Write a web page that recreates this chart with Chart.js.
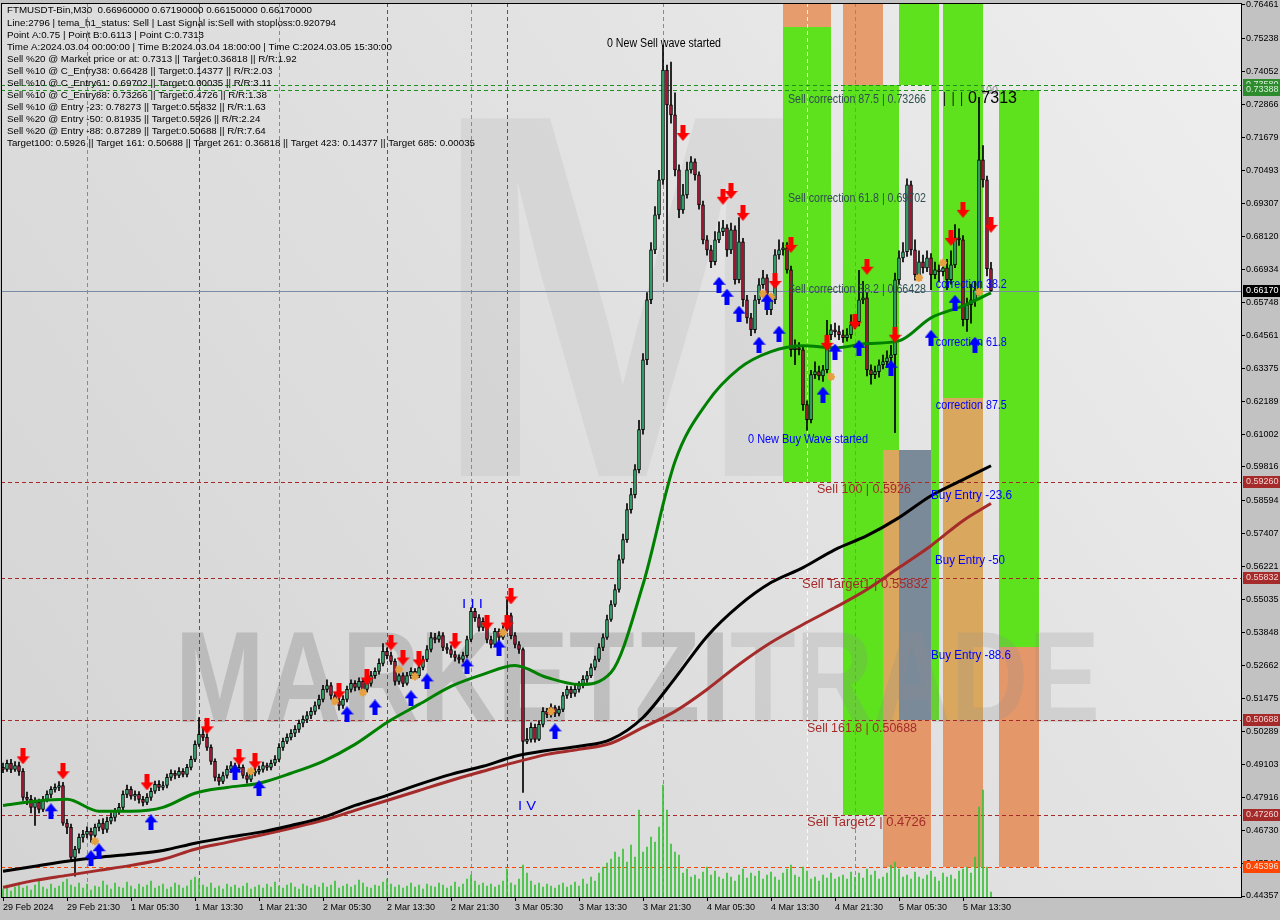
<!DOCTYPE html>
<html>
<head>
<meta charset="utf-8">
<title>FTMUSDT-Bin,M30</title>
<script src="https://cdn.jsdelivr.net/npm/chart.js@4.4.1/dist/chart.umd.min.js"></script>
<style>
  html, body { margin: 0; padding: 0; background: #c2c2c2; }
  canvas { display: block; }
</style>
</head>
<body>
<canvas id="chart" width="1280" height="920"></canvas>
<script>
// ---- time axis (bar index, M30 bars from 29 Feb 13:30) ----
var tickIdx = [0, 16, 32, 48, 64, 80, 96, 112, 128, 144, 160, 176, 192, 208, 224, 240];
var tickLabels = ['29 Feb 2024', '29 Feb 21:30', '1 Mar 05:30', '1 Mar 13:30', '1 Mar 21:30', '2 Mar 05:30',
  '2 Mar 13:30', '2 Mar 21:30', '3 Mar 05:30', '3 Mar 13:30', '3 Mar 21:30', '4 Mar 05:30', '4 Mar 13:30',
  '4 Mar 21:30', '5 Mar 05:30', '5 Mar 13:30'];

// ---- price axis ----
var yTicks = [0.76461, 0.75238, 0.74052, 0.72866, 0.71679, 0.70493, 0.69307, 0.68120, 0.66934, 0.65748,
  0.64561, 0.63375, 0.62189, 0.61002, 0.59816, 0.58594, 0.57407, 0.56221, 0.55035, 0.53848, 0.52662,
  0.51475, 0.50289, 0.49103, 0.47916, 0.46730, 0.45544, 0.44357];

// ---- candles ----
var opens = [
  0.4899,0.4892,0.4914,0.4892,0.4906,0.4885,0.4791,0.4784,0.4755,0.4773,
  0.4748,0.4784,0.4802,0.4820,0.4827,0.4834,0.4698,0.4683,0.4575,0.4604,
  0.4647,0.4658,0.4669,0.4654,0.4683,0.4698,0.4676,0.4705,0.4719,0.4741,
  0.4755,0.4802,0.4820,0.4795,0.4802,0.4784,0.4773,0.4791,0.4813,0.4838,
  0.4827,0.4834,0.4863,0.4878,0.4870,0.4885,0.4874,0.4899,0.4928,0.4982,
  0.5018,0.5007,0.4971,0.4921,0.4863,0.4849,0.4870,0.4892,0.4906,0.4892,
  0.4899,0.4870,0.4856,0.4878,0.4885,0.4892,0.4906,0.4899,0.4914,0.4928,
  0.4971,0.4993,0.5007,0.5022,0.5036,0.5058,0.5072,0.5086,0.5101,0.5122,
  0.5144,0.5180,0.5194,0.5158,0.5137,0.5122,0.5144,0.5180,0.5202,0.5187,
  0.5209,0.5180,0.5202,0.5230,0.5245,0.5274,0.5317,0.5302,0.5281,0.5209,
  0.5230,0.5202,0.5230,0.5245,0.5230,0.5259,0.5288,0.5324,0.5367,0.5360,
  0.5374,0.5331,0.5324,0.5306,0.5295,0.5288,0.5302,0.5360,0.5461,0.5439,
  0.5403,0.5425,0.5360,0.5342,0.5389,0.5367,0.5396,0.5446,0.5374,0.5342,
  0.5324,0.4993,0.5000,0.5043,0.5000,0.5054,0.5101,0.5090,0.5115,0.5094,
  0.5108,0.5158,0.5180,0.5166,0.5180,0.5194,0.5216,0.5230,0.5259,0.5288,
  0.5331,0.5367,0.5432,0.5486,0.5540,0.5648,0.5720,0.5828,0.5882,0.5972,
  0.6116,0.6368,0.6584,0.6764,0.6890,0.7016,0.7412,0.7286,0.7250,0.7052,
  0.6908,0.6962,0.7052,0.7081,0.7034,0.6926,0.6800,0.6764,0.6721,0.6800,
  0.6829,0.6843,0.6764,0.6836,0.6656,0.6793,0.6584,0.6519,0.6476,0.6584,
  0.6638,0.6663,0.6548,0.6584,0.6746,0.6764,0.6771,0.6692,0.6404,0.6411,
  0.6404,0.6206,0.6152,0.6314,0.6325,0.6310,0.6332,0.6458,0.6476,0.6469,
  0.6458,0.6447,0.6458,0.6494,0.6505,0.6584,0.6591,0.6332,0.6314,0.6325,
  0.6350,0.6361,0.6375,0.6386,0.6656,0.6735,0.6757,0.6998,0.6764,0.6674,
  0.6721,0.6699,0.6735,0.6674,0.6692,0.6685,0.6699,0.6656,0.6710,0.6807,
  0.6800,0.6512,0.6566,0.6584,0.6620,0.7088,0.7016,0.6696];
var highs = [
  0.4915,0.4925,0.4928,0.4920,0.4918,0.4895,0.4810,0.4798,0.4790,0.4785,
  0.4795,0.4815,0.4830,0.4840,0.4848,0.4845,0.4712,0.4695,0.4615,0.4660,
  0.4672,0.4685,0.4680,0.4695,0.4710,0.4715,0.4720,0.4735,0.4752,0.4770,
  0.4815,0.4835,0.4830,0.4815,0.4812,0.4795,0.4805,0.4825,0.4850,0.4852,
  0.4848,0.4875,0.4890,0.4888,0.4898,0.4895,0.4910,0.4940,0.4995,0.5079,
  0.5040,0.5020,0.4980,0.4930,0.4875,0.4882,0.4905,0.4920,0.4915,0.4912,
  0.4908,0.4880,0.4890,0.4898,0.4905,0.4918,0.4915,0.4925,0.4942,0.4985,
  0.5005,0.5020,0.5035,0.5050,0.5070,0.5085,0.5100,0.5115,0.5135,0.5160,
  0.5195,0.5215,0.5205,0.5170,0.5150,0.5158,0.5192,0.5215,0.5212,0.5222,
  0.5218,0.5215,0.5245,0.5258,0.5290,0.5345,0.5330,0.5315,0.5290,0.5245,
  0.5240,0.5242,0.5258,0.5255,0.5272,0.5300,0.5338,0.5385,0.5382,0.5388,
  0.5385,0.5345,0.5338,0.5318,0.5305,0.5315,0.5372,0.5475,0.5472,0.5450,
  0.5438,0.5435,0.5372,0.5400,0.5398,0.5410,0.5504,0.5455,0.5385,0.5352,
  0.5330,0.5040,0.5060,0.5055,0.5068,0.5115,0.5112,0.5128,0.5122,0.5120,
  0.5170,0.5192,0.5190,0.5195,0.5208,0.5230,0.5245,0.5272,0.5300,0.5345,
  0.5380,0.5448,0.5500,0.5558,0.5665,0.5740,0.5850,0.5905,0.5990,0.6150,
  0.6390,0.6610,0.6790,0.6920,0.7050,0.7500,0.7430,0.7440,0.7330,0.7070,
  0.7000,0.7080,0.7100,0.7092,0.7045,0.6940,0.6815,0.6780,0.6830,0.6865,
  0.6870,0.6855,0.6860,0.6850,0.6880,0.6805,0.6600,0.6535,0.6600,0.6660,
  0.6690,0.6675,0.6600,0.6765,0.6800,0.6790,0.6790,0.6705,0.6440,0.6430,
  0.6420,0.6220,0.6330,0.6360,0.6345,0.6348,0.6510,0.6495,0.6500,0.6490,
  0.6475,0.6480,0.6530,0.6530,0.6690,0.6650,0.6610,0.6350,0.6345,0.6368,
  0.6385,0.6400,0.6420,0.6680,0.6760,0.6790,0.7020,0.7012,0.6800,0.6760,
  0.6745,0.6760,0.6750,0.6720,0.6710,0.6730,0.6730,0.6760,0.6855,0.6840,
  0.6815,0.6590,0.6640,0.6650,0.7313,0.7140,0.7030,0.6719];
var lows = [
  0.4880,0.4885,0.4880,0.4885,0.4870,0.4780,0.4765,0.4735,0.4690,0.4735,
  0.4740,0.4775,0.4790,0.4810,0.4815,0.4690,0.4660,0.4560,0.4507,0.4590,
  0.4630,0.4645,0.4630,0.4640,0.4670,0.4660,0.4665,0.4695,0.4705,0.4730,
  0.4745,0.4790,0.4785,0.4780,0.4770,0.4760,0.4765,0.4780,0.4805,0.4815,
  0.4818,0.4825,0.4852,0.4858,0.4862,0.4865,0.4865,0.4890,0.4920,0.4975,
  0.4995,0.4960,0.4910,0.4850,0.4835,0.4840,0.4860,0.4880,0.4880,0.4882,
  0.4860,0.4842,0.4848,0.4868,0.4875,0.4882,0.4888,0.4890,0.4905,0.4920,
  0.4960,0.4985,0.4998,0.5010,0.5025,0.5045,0.5060,0.5075,0.5090,0.5110,
  0.5135,0.5170,0.5145,0.5125,0.5105,0.5112,0.5135,0.5170,0.5175,0.5178,
  0.5168,0.5170,0.5192,0.5220,0.5235,0.5265,0.5290,0.5270,0.5195,0.5198,
  0.5190,0.5195,0.5220,0.5218,0.5222,0.5250,0.5280,0.5315,0.5348,0.5350,
  0.5320,0.5310,0.5295,0.5282,0.5275,0.5278,0.5295,0.5352,0.5425,0.5390,
  0.5392,0.5348,0.5330,0.5335,0.5355,0.5360,0.5390,0.5362,0.5330,0.5310,
  0.4809,0.4985,0.4990,0.4990,0.4995,0.5045,0.5078,0.5080,0.5082,0.5085,
  0.5100,0.5148,0.5150,0.5155,0.5170,0.5185,0.5205,0.5222,0.5250,0.5280,
  0.5320,0.5360,0.5425,0.5478,0.5530,0.5635,0.5710,0.5815,0.5870,0.5960,
  0.6100,0.6350,0.6570,0.6750,0.6875,0.7000,0.6650,0.7220,0.7030,0.6880,
  0.6895,0.6950,0.7040,0.7015,0.6910,0.6785,0.6745,0.6700,0.6710,0.6790,
  0.6815,0.6740,0.6750,0.6640,0.6645,0.6560,0.6500,0.6455,0.6465,0.6570,
  0.6625,0.6530,0.6530,0.6570,0.6730,0.6745,0.6680,0.6380,0.6350,0.6385,
  0.6185,0.6113,0.6140,0.6300,0.6295,0.6290,0.6320,0.6440,0.6450,0.6440,
  0.6430,0.6435,0.6445,0.6480,0.6490,0.6570,0.6310,0.6280,0.6300,0.6305,
  0.6335,0.6340,0.6355,0.6105,0.6640,0.6720,0.6740,0.6745,0.6655,0.6660,
  0.6680,0.6685,0.6620,0.6660,0.6650,0.6670,0.6620,0.6640,0.6700,0.6780,
  0.6490,0.6470,0.6500,0.6560,0.6600,0.6990,0.6670,0.6615];
var closes = [
  0.4892,0.4914,0.4892,0.4906,0.4885,0.4791,0.4784,0.4755,0.4773,0.4748,
  0.4784,0.4802,0.4820,0.4827,0.4834,0.4698,0.4683,0.4575,0.4604,0.4647,
  0.4658,0.4669,0.4654,0.4683,0.4698,0.4676,0.4705,0.4719,0.4741,0.4755,
  0.4802,0.4820,0.4795,0.4802,0.4784,0.4773,0.4791,0.4813,0.4838,0.4827,
  0.4834,0.4863,0.4878,0.4870,0.4885,0.4874,0.4899,0.4928,0.4982,0.5018,
  0.5007,0.4971,0.4921,0.4863,0.4849,0.4870,0.4892,0.4906,0.4892,0.4899,
  0.4870,0.4856,0.4878,0.4885,0.4892,0.4906,0.4899,0.4914,0.4928,0.4971,
  0.4993,0.5007,0.5022,0.5036,0.5058,0.5072,0.5086,0.5101,0.5122,0.5144,
  0.5180,0.5194,0.5158,0.5137,0.5122,0.5144,0.5180,0.5202,0.5187,0.5209,
  0.5180,0.5202,0.5230,0.5245,0.5274,0.5317,0.5302,0.5281,0.5209,0.5230,
  0.5202,0.5230,0.5245,0.5230,0.5259,0.5288,0.5324,0.5367,0.5360,0.5374,
  0.5331,0.5324,0.5306,0.5295,0.5288,0.5302,0.5360,0.5461,0.5439,0.5403,
  0.5425,0.5360,0.5342,0.5389,0.5367,0.5396,0.5446,0.5374,0.5342,0.5324,
  0.4993,0.5000,0.5043,0.5000,0.5054,0.5101,0.5090,0.5115,0.5094,0.5108,
  0.5158,0.5180,0.5166,0.5180,0.5194,0.5216,0.5230,0.5259,0.5288,0.5331,
  0.5367,0.5432,0.5486,0.5540,0.5648,0.5720,0.5828,0.5882,0.5972,0.6116,
  0.6368,0.6584,0.6764,0.6890,0.7016,0.7412,0.7286,0.7250,0.7052,0.6908,
  0.6962,0.7052,0.7081,0.7034,0.6926,0.6800,0.6764,0.6721,0.6800,0.6829,
  0.6843,0.6764,0.6836,0.6656,0.6793,0.6584,0.6519,0.6476,0.6584,0.6638,
  0.6663,0.6548,0.6584,0.6746,0.6764,0.6771,0.6692,0.6404,0.6411,0.6404,
  0.6206,0.6152,0.6314,0.6325,0.6310,0.6332,0.6458,0.6476,0.6469,0.6458,
  0.6447,0.6458,0.6494,0.6505,0.6584,0.6591,0.6332,0.6314,0.6325,0.6350,
  0.6361,0.6375,0.6386,0.6656,0.6735,0.6757,0.6998,0.6764,0.6674,0.6721,
  0.6699,0.6735,0.6674,0.6692,0.6685,0.6699,0.6656,0.6710,0.6807,0.6800,
  0.6512,0.6566,0.6584,0.6620,0.7088,0.7016,0.6696,0.6617];
var volumes = [
  8,12,6,10,14,9,11,7,12,16,10,8,13,9,11,15,18,12,10,14,
  9,13,7,11,10,16,12,8,14,10,9,15,11,8,13,10,12,16,9,11,
  13,8,10,14,12,9,11,17,20,18,12,10,14,9,11,8,13,10,12,9,
  11,14,8,10,12,9,13,10,15,11,9,12,14,10,8,13,11,9,12,10,
  14,10,12,16,9,11,13,10,12,17,14,10,9,12,11,15,18,13,10,12,
  9,11,14,10,12,8,13,11,10,14,12,9,11,15,10,13,18,22,16,12,
  14,11,13,10,12,16,28,14,12,18,32,24,16,12,14,10,13,11,9,12,
  14,10,12,15,11,18,13,20,16,24,30,34,38,45,40,48,35,52,40,87,
  45,50,60,55,70,112,87,53,45,42,24,28,20,22,18,25,30,22,26,20,
  18,24,20,16,22,28,19,24,21,26,18,22,25,20,17,24,28,32,22,20,
  30,26,18,20,16,22,19,24,18,20,22,18,25,20,24,19,28,22,26,18,
  20,24,32,35,28,20,22,18,25,20,18,22,26,20,16,24,20,22,18,26,
  28,30,24,40,90,107,30,5];

// ---- moving averages, sampled every 8 bars ----
var maIdx = [0,8,16,24,32,40,48,56,64,72,80,88,96,104,112,120,128,136,144,152,160,168,176,184,192,200,208,216,224,232,240,247];
var maGreen = [0.4762,0.4777,0.4784,0.4741,0.4741,0.4755,0.4806,0.4827,0.4842,0.4878,0.4921,0.4982,0.5061,0.5126,0.5191,0.5234,
  0.5266,0.5223,0.5198,0.5241,0.5558,0.6001,0.6213,0.6336,0.6397,0.6418,0.6411,0.6426,0.6436,0.6519,0.6562,0.6609];
var maBlack = [0.4525,0.4543,0.4561,0.4575,0.4586,0.4600,0.4626,0.4647,0.4665,0.4690,0.4719,0.4762,0.4798,0.4838,0.4874,0.4903,
  0.4939,0.4960,0.4975,0.5000,0.5079,0.5220,0.5371,0.5482,0.5565,0.5619,0.5684,0.5734,0.5799,0.5878,0.5936,0.5986];
var maBrown = [0.4467,0.4492,0.4510,0.4528,0.4546,0.4568,0.4604,0.4629,0.4654,0.4680,0.4708,0.4744,0.4780,0.4816,0.4852,0.4885,
  0.4917,0.4946,0.4964,0.4986,0.5043,0.5101,0.5180,0.5270,0.5349,0.5414,0.5475,0.5540,0.5619,0.5698,0.5788,0.5850];

// ---- signals ----
var sellIdx = [5,15,36,51,59,63,84,91,97,100,104,113,121,126,127,170,180,182,185,193,197,206,213,216,223,237,240,247];
var sellPx = [0.4939,0.4885,0.4845,0.5047,0.4935,0.4921,0.5173,0.5223,0.5349,0.5295,0.5288,0.5353,0.5421,0.5421,0.5515,
  0.7185,0.6955,0.6976,0.6897,0.6652,0.6782,0.6429,0.6505,0.6703,0.6458,0.6807,0.6908,0.6854];
var buyIdx = [12,22,24,37,58,64,86,93,102,106,116,124,138,179,181,184,189,191,194,205,208,214,222,232,238,243];
var buyPx = [0.4741,0.4572,0.4597,0.4701,0.4881,0.4824,0.5090,0.5115,0.5148,0.5209,0.5263,0.5331,0.5029,
  0.6638,0.6595,0.6534,0.6422,0.6577,0.6462,0.6242,0.6397,0.6411,0.6339,0.6447,0.6573,0.6422];
var starIdx = [23,62,83,90,99,103,125,137,190,192,207,229,235,244];
var starPx = [0.4633,0.4885,0.5137,0.5169,0.5252,0.5227,0.5385,0.5101,0.6606,0.6595,0.6307,0.6663,0.6717,0.6613];

// ---- levels ----
var currentPrice = 0.6617;
var greenLevels = [0.7358, 0.73388];
var redLevels = [0.5926, 0.55832, 0.50688, 0.4726];
var orangeLevel = 0.45396;
var timeLines = [21, 49, 69, 96, 117, 126, 165, 201, 213];

var GREEN = '#5de21d', TAN = '#d9a85e', SLATE = '#7b8a99', SALMON = '#e4986a', ORANGE = '#e69c6c';
var zones = [
  {i0:195, i1:207, p0:0.7700, p1:0.7567, c:ORANGE},
  {i0:195, i1:207, p0:0.7567, p1:0.5926, c:GREEN},
  {i0:210, i1:220, p0:0.7700, p1:0.7358, c:ORANGE},
  {i0:210, i1:224, p0:0.7358, p1:0.4726, c:GREEN},
  {i0:224, i1:234, p0:0.7700, p1:0.7358, c:GREEN},
  {i0:232, i1:234, p0:0.7358, p1:0.50688, c:GREEN},
  {i0:235, i1:245, p0:0.7700, p1:0.6230, c:GREEN},
  {i0:249, i1:259, p0:0.73388, p1:0.5333, c:GREEN},
  {i0:220, i1:224, p0:0.6043, p1:0.50688, c:TAN},
  {i0:224, i1:232, p0:0.6043, p1:0.50688, c:SLATE},
  {i0:235, i1:245, p0:0.6230, p1:0.50688, c:TAN},
  {i0:220, i1:232, p0:0.50688, p1:0.45396, c:SALMON},
  {i0:235, i1:245, p0:0.50688, p1:0.45396, c:SALMON},
  {i0:249, i1:259, p0:0.5333, p1:0.45396, c:SALMON}
];

var BLUE = '#0000ff', DRED = '#a52a2a', SLATETXT = '#2f4f4f';
var notes = [
  {t:'0 New Sell wave started', i:151, p:0.7506, c:'#000000', s:12, w:114},
  {t:'Sell correction 87.5 | 0.73266', i:196.25, p:0.7304, c:SLATETXT, s:12, w:138},
  {t:'Sell correction 61.8 | 0.69702', i:196.25, p:0.6948, c:SLATETXT, s:12, w:138},
  {t:'Sell correction 38.2 | 0.66428', i:196.25, p:0.6620, c:SLATETXT, s:12, w:138},
  {t:'correction 38.2', i:233.2, p:0.6638, c:BLUE, s:12, w:71},
  {t:'correction 61.8', i:233.2, p:0.6429, c:BLUE, s:12, w:71},
  {t:'correction 87.5', i:233.2, p:0.6202, c:BLUE, s:12, w:71},
  {t:'0 New Buy Wave started', i:186.25, p:0.6080, c:BLUE, s:12, w:120},
  {t:'Sell 100 | 0.5926', i:203.5, p:0.5900, c:DRED, s:12, w:94},
  {t:'Buy Entry -23.6', i:232, p:0.5878, c:BLUE, s:12, w:81},
  {t:'Buy Entry -50', i:233, p:0.5644, c:BLUE, s:12, w:70},
  {t:'Sell Target1 | 0.55832', i:199.75, p:0.5558, c:DRED, s:12, w:126},
  {t:'Buy Entry -88.6', i:232, p:0.5302, c:BLUE, s:12, w:80},
  {t:'Sell 161.8 | 0.50688', i:201, p:0.5040, c:DRED, s:12, w:110},
  {t:'Sell Target2 | 0.4726', i:201, p:0.4701, c:DRED, s:12, w:119},
  {t:'I I I', i:114.75, p:0.5486, c:BLUE, s:13, w:21},
  {t:'I V', i:128.75, p:0.4759, c:BLUE, s:13, w:18},
  {t:'100', i:244.25, p:0.7336, c:'#909090', s:10, w:18},
  {t:'|  |  |', i:235, p:0.7308, c:'#000000', s:15, w:20},
  {t:'0.7313', i:241.25, p:0.7308, c:'#000000', s:16, w:49}
];

var header = [
  'FTMUSDT-Bin,M30  0.66960000 0.67190000 0.66150000 0.66170000',
  'Line:2796 | tema_h1_status: Sell | Last Signal is:Sell with stoploss:0.920794',
  'Point A:0.75 | Point B:0.6113 | Point C:0.7313',
  'Time A:2024.03.04 00:00:00 | Time B:2024.03.04 18:00:00 | Time C:2024.03.05 15:30:00',
  'Sell %20 @ Market price or at: 0.7313 || Target:0.36818 || R/R:1.92',
  'Sell %10 @ C_Entry38: 0.66428 || Target:0.14377 || R/R:2.03',
  'Sell %10 @ C_Entry61: 0.69702 || Target:0.00035 || R/R:3.11',
  'Sell %10 @ C_Entry88: 0.73266 || Target:0.4726 || R/R:1.38',
  'Sell %10 @ Entry -23: 0.78273 || Target:0.55832 || R/R:1.63',
  'Sell %20 @ Entry -50: 0.81935 || Target:0.5926 || R/R:2.24',
  'Sell %20 @ Entry -88: 0.87289 || Target:0.50688 || R/R:7.64',
  'Target100: 0.5926 || Target 161: 0.50688 || Target 261: 0.36818 || Target 423: 0.14377 || Target 685: 0.00035'
];

var axisTags = [
  {p:0.7358, bg:'#2e8b2e', fg:'#d8f0d8', t:'0.73580'},
  {p:0.73388, bg:'#2e8b2e', fg:'#d8f0d8', t:'0.73388'},
  {p:0.6617, bg:'#000000', fg:'#ffffff', t:'0.66170'},
  {p:0.5926, bg:'#a52a2a', fg:'#f4d4d4', t:'0.59260'},
  {p:0.55832, bg:'#a52a2a', fg:'#f4d4d4', t:'0.55832'},
  {p:0.50688, bg:'#a52a2a', fg:'#f4d4d4', t:'0.50688'},
  {p:0.4726, bg:'#a52a2a', fg:'#f4d4d4', t:'0.47260'},
  {p:0.45396, bg:'#ff4500', fg:'#ffe4d8', t:'0.45396'}
];

var FONT = '"Liberation Sans", Arial, sans-serif';

function makeArrow(color, down) {
  var cv = document.createElement('canvas');
  cv.width = 13; cv.height = 16;
  var c = cv.getContext('2d');
  c.fillStyle = color;
  c.beginPath();
  if (down) {
    c.moveTo(4, 0); c.lineTo(9, 0); c.lineTo(9, 8); c.lineTo(13, 8); c.lineTo(6.5, 16); c.lineTo(0, 8); c.lineTo(4, 8);
  } else {
    c.moveTo(4, 16); c.lineTo(9, 16); c.lineTo(9, 8); c.lineTo(13, 8); c.lineTo(6.5, 0); c.lineTo(0, 8); c.lineTo(4, 8);
  }
  c.closePath();
  c.fill();
  return cv;
}

function drawText(c, s, x, y, font, color, w) {
  c.save();
  c.font = font;
  c.fillStyle = color;
  c.textBaseline = 'middle';
  c.textAlign = 'left';
  var m = c.measureText(s).width;
  c.translate(x, y);
  if (w) c.scale(w / m, 1);
  c.fillText(s, 0, 0);
  c.restore();
}

function hLine(c, a, y, color, dash) {
  c.save();
  c.strokeStyle = color;
  c.lineWidth = 1;
  c.setLineDash(dash || []);
  c.beginPath();
  c.moveTo(a.left, Math.round(y) + 0.5);
  c.lineTo(a.right, Math.round(y) + 0.5);
  c.stroke();
  c.restore();
}

var backdrop = {
  id: 'backdrop',
  beforeDraw: function(chart) {
    var c = chart.ctx, a = chart.chartArea;
    c.save();
    c.fillStyle = '#c2c2c2';
    c.fillRect(0, 0, chart.width, chart.height);
    var g = c.createLinearGradient(a.left, a.bottom, a.right, a.top);
    g.addColorStop(0, '#d4d4d4');
    g.addColorStop(0.6, '#e2e2e2');
    g.addColorStop(1, '#efefef');
    c.fillStyle = g;
    c.fillRect(a.left, a.top, a.right - a.left, a.bottom - a.top);
    c.restore();
  }
};

var zonesPlugin = {
  id: 'zones',
  beforeDatasetsDraw: function(chart) {
    var c = chart.ctx, a = chart.chartArea, xs = chart.scales.x, ys = chart.scales.y;
    c.save();
    c.beginPath();
    c.rect(a.left, a.top, a.right - a.left, a.bottom - a.top);
    c.clip();

    // big logo "M" in the background
    c.save();
    c.font = 'bold 520px ' + FONT;
    c.fillStyle = 'rgba(160,160,160,0.16)';
    c.textBaseline = 'alphabetic';
    var mw = c.measureText('M').width;
    c.translate(430, 476);
    c.scale(385 / mw, 1);
    c.fillText('M', 0, 0);
    c.restore();

    zones.forEach(function(z) {
      var x0 = Math.round(xs.getPixelForValue(z.i0)), x1 = Math.round(xs.getPixelForValue(z.i1));
      var y0 = Math.round(ys.getPixelForValue(z.p0)), y1 = Math.round(ys.getPixelForValue(z.p1));
      c.fillStyle = z.c;
      c.fillRect(x0, y0, x1 - x0, y1 - y0);
    });

    // brand watermark
    c.save();
    c.font = 'bold 130px ' + FONT;
    c.textBaseline = 'alphabetic';
    var full = c.measureText('MARKETZITRADE').width;
    var sx = 925 / full;
    c.translate(175, 722);
    c.scale(sx, 1);
    c.fillStyle = 'rgba(120,120,120,0.30)';
    c.fillText('MARKETZI', 0, 0);
    var w1 = c.measureText('MARKETZI').width;
    c.fillStyle = 'rgba(140,140,140,0.22)';
    c.fillText('TRADE', w1, 0);
    c.restore();

    // time markers
    timeLines.forEach(function(t, k) {
      var x = Math.round(xs.getPixelForValue(t)) + 0.5;
      var col = (k === 1 || k === 3 || k === 5) ? '#c71585' : (t === 201 ? 'rgba(255,255,255,0.85)' : '#8a8a8a');
      c.save();
      c.strokeStyle = col;
      c.setLineDash([4, 3]);
      c.beginPath();
      c.moveTo(x, a.top);
      c.lineTo(x, a.bottom);
      c.stroke();
      c.restore();
    });

    greenLevels.forEach(function(p) { hLine(c, a, ys.getPixelForValue(p), '#1f8f1f', [4, 3]); });
    redLevels.forEach(function(p) { hLine(c, a, ys.getPixelForValue(p), '#a52a2a', [4, 3]); });
    hLine(c, a, ys.getPixelForValue(orangeLevel), '#ff4500', [4, 3]);
    hLine(c, a, ys.getPixelForValue(currentPrice), '#7a8ca4');
    c.restore();
  }
};

var overlay = {
  id: 'overlay',
  afterDraw: function(chart) {
    var c = chart.ctx, a = chart.chartArea, xs = chart.scales.x, ys = chart.scales.y;
    c.save();
    c.beginPath();
    c.rect(a.left, a.top, a.right - a.left, a.bottom - a.top);
    c.clip();
    notes.forEach(function(n) {
      drawText(c, n.t, xs.getPixelForValue(n.i), ys.getPixelForValue(n.p), n.s + 'px ' + FONT, n.c, n.w);
    });
    // header block
    c.font = '9px ' + FONT;
    var hs = 468 / c.measureText(header[11]).width;
    header.forEach(function(line, k) {
      drawText(c, line, 7, 11 + k * 12.05, '9px ' + FONT, '#000000', c.measureText(line).width * hs);
    });
    c.restore();

    // frame
    c.save();
    c.strokeStyle = '#000000';
    c.lineWidth = 1;
    c.strokeRect(a.left + 0.5, a.top + 0.5, a.right - a.left, a.bottom - a.top);
    c.restore();

    // price tags on the axis
    axisTags.forEach(function(tg) {
      var y = Math.round(ys.getPixelForValue(tg.p));
      c.fillStyle = tg.bg;
      c.fillRect(a.right + 2, y - 6, chart.width - a.right - 2, 12);
      drawText(c, tg.t, a.right + 5, y, '9px ' + FONT, tg.fg);
    });
  }
};

var upColor = '#3cb878', downColor = '#b81c3c';
var bodyColors = closes.map(function(cl, i) { return cl >= opens[i] ? upColor : downColor; });

function series(xsArr, ysArr) {
  return xsArr.map(function(x, k) { return {x: x, y: ysArr[k]}; });
}

var ctx = document.getElementById('chart');
var chart = new Chart(ctx, {
  type: 'bar',
  data: {
    datasets: [
      {
        type: 'bar', label: 'volume', yAxisID: 'yv', order: 30, grouped: false,
        data: volumes.map(function(v, i) { return {x: i, y: v}; }),
        backgroundColor: '#36c236', barThickness: 1
      },
      {
        type: 'bar', label: 'wicks', order: 21, grouped: false,
        data: highs.map(function(h, i) { return {x: i, y: [lows[i], h]}; }),
        backgroundColor: '#000000', barThickness: 1
      },
      {
        type: 'bar', label: 'bodies', order: 20, grouped: false,
        data: closes.map(function(cl, i) { return {x: i, y: [opens[i], cl]}; }),
        backgroundColor: bodyColors, borderColor: '#000000', borderWidth: 1, borderSkipped: false,
        barThickness: 3, minBarLength: 1
      },
      {
        type: 'line', label: 'ma slow', order: 12, data: series(maIdx, maBrown),
        borderColor: '#a52a2a', borderWidth: 3, pointRadius: 0, cubicInterpolationMode: 'monotone'
      },
      {
        type: 'line', label: 'ma mid', order: 11, data: series(maIdx, maBlack),
        borderColor: '#000000', borderWidth: 3, pointRadius: 0, cubicInterpolationMode: 'monotone'
      },
      {
        type: 'line', label: 'ma fast', order: 10, data: series(maIdx, maGreen),
        borderColor: '#008000', borderWidth: 3, pointRadius: 0, cubicInterpolationMode: 'monotone'
      },
      {
        type: 'line', label: 'stars', order: 2, showLine: false, data: series(starIdx, starPx),
        pointStyle: 'star', pointRadius: 4, borderColor: '#e6a040', borderWidth: 2, backgroundColor: '#e6a040'
      },
      {
        type: 'line', label: 'sell', order: 1, showLine: false, data: series(sellIdx, sellPx),
        pointStyle: makeArrow('#ff0000', true), pointRadius: 6
      },
      {
        type: 'line', label: 'buy', order: 1, showLine: false, data: series(buyIdx, buyPx),
        pointStyle: makeArrow('#0000ff', false), pointRadius: 6
      }
    ]
  },
  options: {
    responsive: false,
    animation: false,
    events: [],
    layout: { autoPadding: false, padding: { left: 1, top: 3, right: 0, bottom: 0 } },
    plugins: { legend: { display: false }, tooltip: { enabled: false } },
    scales: {
      x: {
        type: 'linear', min: -0.5, max: 309.5, offset: false,
        grid: { offset: false, drawOnChartArea: false, drawTicks: true, tickLength: 4, color: '#000000' },
        border: { display: true, color: '#000000' },
        ticks: {
          align: 'start', padding: 1, autoSkip: false, maxRotation: 0, minRotation: 0,
          font: { family: FONT, size: 9 }, color: '#000000',
          callback: function(v, k) { return tickLabels[k]; }
        },
        afterBuildTicks: function(s) { s.ticks = tickIdx.map(function(v) { return {value: v}; }); },
        afterFit: function(s) { s.height = 23; s.paddingLeft = 0; s.paddingRight = 0; }
      },
      y: {
        type: 'linear', position: 'right', min: 0.44321, max: 0.76533, beginAtZero: false,
        grid: { drawOnChartArea: false, drawTicks: true, tickLength: 4, color: '#000000' },
        border: { display: true, color: '#000000' },
        ticks: {
          padding: 1, autoSkip: false, font: { family: FONT, size: 9 }, color: '#000000',
          callback: function(v) { return v.toFixed(5); }
        },
        afterBuildTicks: function(s) { s.ticks = yTicks.map(function(v) { return {value: v}; }); },
        afterFit: function(s) { s.width = 39; s.paddingTop = 0; s.paddingBottom = 0; }
      },
      yv: { type: 'linear', display: false, min: 0, max: 894 }
    }
  },
  plugins: [backdrop, zonesPlugin, overlay]
});
</script>
</body>
</html>
